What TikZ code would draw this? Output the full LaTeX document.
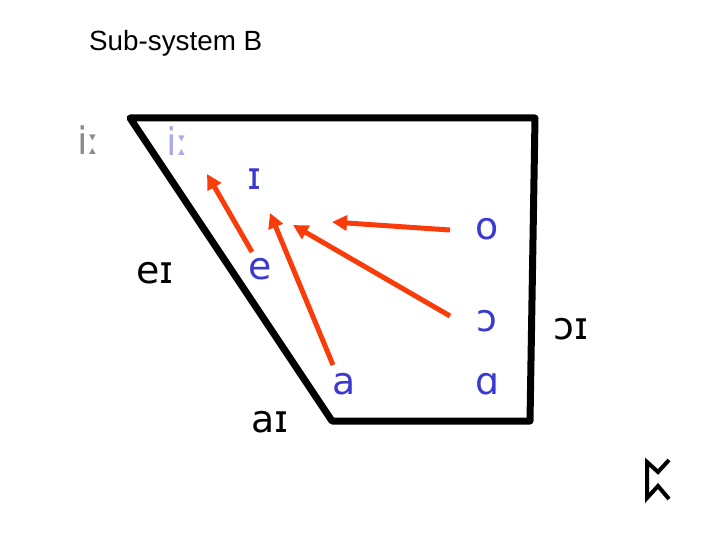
\documentclass[tikz,border=0pt]{standalone}
\usepackage{fontspec}
\setmainfont{Liberation Sans}
\newfontfamily\ipafont{DejaVu Sans}
\usetikzlibrary{arrows.meta}
\definecolor{vowelblue}{RGB}{58,58,208}
\definecolor{paleblue}{RGB}{170,170,232}
\definecolor{palegrey}{RGB}{140,140,140}
\definecolor{arrowred}{RGB}{250,60,10}
\tikzset{
  title/.style={inner sep=0pt,anchor=base west,font=\fontsize{27.9}{30}\selectfont},
  ipa/.style={inner sep=0pt,font=\ipafont\fontsize{38}{42}\selectfont},
  vowel/.style={ipa,text=vowelblue},
  diph/.style={ipa,text=black},
  shift arrow/.style={draw=arrowred,line width=5bp,-{Triangle[length=15bp,width=15bp]}},
  frame/.style={draw=black,line width=7bp,line join=round},
  rune/.style={draw=black,line width=4bp,line join=miter}
}
\begin{document}
\begin{tikzpicture}[x=1bp,y=-1bp]
\useasboundingbox (0,0) rectangle (720,540);
\node[title] (t) at (89,51) {Sub-system B};
\draw[frame] (130,118) -- (535,118) -- (530,421) -- (332,421) -- cycle;
\node[ipa,text=palegrey] (gi) at (89,140) {iː};
\node[ipa,text=paleblue] (li) at (178,141) {iː};
\node[vowel] (I) at (255,179) {ɪ};
\node[vowel] (e) at (260,269) {e};
\node[vowel] (a) at (344,384) {a};
\node[vowel] (o) at (487,229) {o};
\node[vowel] (c) at (487,321) {ɔ};
\node[vowel] (A) at (488,384) {ɑ};
\node[diph] (ei) at (155,273) {eɪ};
\node[diph] (ai) at (270,422) {aɪ};
\node[diph] (ci) at (571,329) {ɔɪ};
\coordinate (e1) at (252,252); \coordinate (e2) at (207,174);
\coordinate (a1) at (333,365); \coordinate (a2) at (270,213);
\coordinate (c1) at (450,316); \coordinate (c2) at (293,225);
\coordinate (o1) at (450,230); \coordinate (o2) at (332,222);
\draw[shift arrow] (e1) -- (e2);
\draw[shift arrow] (a1) -- (a2);
\draw[shift arrow] (c1) -- (c2);
\draw[shift arrow] (o1) -- (o2);
\draw[rune] (669,460) -- (658,472) -- (647,462) -- (647,498) -- (658,486) -- (669,499);
\end{tikzpicture}
\end{document}
